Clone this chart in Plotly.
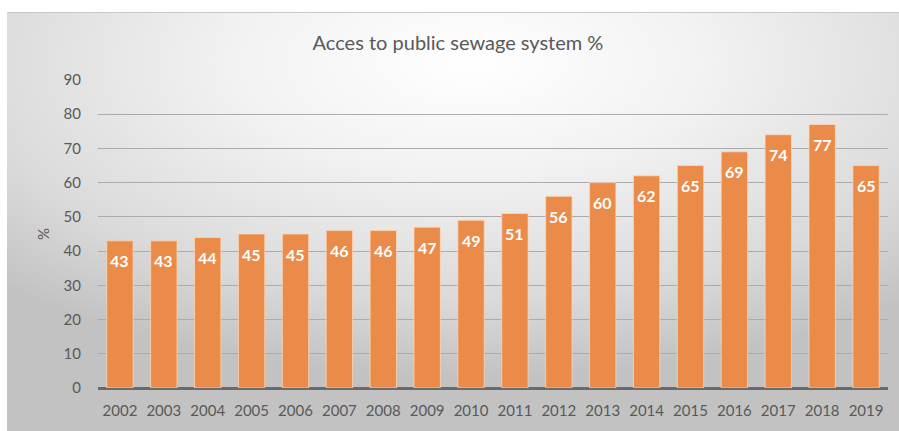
import base64
import plotly.graph_objects as go

years = ["2002", "2003", "2004", "2005", "2006", "2007", "2008", "2009", "2010",
         "2011", "2012", "2013", "2014", "2015", "2016", "2017", "2018", "2019"]
values = [43, 43, 44, 45, 45, 46, 46, 47, 49, 51, 56, 60, 62, 65, 69, 74, 77, 65]
title_text = "Acces to public sewage system %"
y_title = "%"
y_ticks = [0, 10, 20, 30, 40, 50, 60, 70, 80, 90]

W, H = 899, 431
FONT = "Lato"
GREY = "#595959"

svg = """<svg xmlns='http://www.w3.org/2000/svg' width='892' height='419' viewBox='0 0 892 419' preserveAspectRatio='none'>
<defs><radialGradient id='g' cx='0.52' cy='0.12' r='0.75' fx='0.52' fy='0.12'>
<stop offset='0' stop-color='#ffffff'/>
<stop offset='0.35' stop-color='#f2f2f2'/>
<stop offset='0.75' stop-color='#dadada'/>
<stop offset='1' stop-color='#c2c2c2'/>
</radialGradient></defs>
<rect width='892' height='419' fill='url(#g)'/>
<line x1='0' y1='0.5' x2='892' y2='0.5' stroke='#c8c8c8' stroke-width='1'/>
</svg>"""
src = "data:image/svg+xml;base64," + base64.b64encode(svg.encode()).decode()

fig = go.Figure()
fig.add_trace(go.Bar(
    x=years, y=values,
    marker=dict(color="#EA8B4A", line=dict(color="rgba(255,220,190,0.7)", width=1)),
    hoverinfo="x+y",
))

for i, v in enumerate(values):
    fig.add_annotation(x=i, y=v, text=f"<b>{v}</b>", showarrow=False,
                       yanchor="middle", yshift=-20,
                       font=dict(family=FONT, size=16, color="white"))

x0, x1 = 98 / W, 888 / W
y0, y1 = (H - 388) / H, (H - 80) / H

fig.update_layout(
    width=W, height=H,
    margin=dict(l=0, r=0, t=0, b=0, autoexpand=False),
    paper_bgcolor="white",
    plot_bgcolor="rgba(0,0,0,0)",
    showlegend=False,
    bargap=0.4,
    font=dict(family=FONT, color=GREY, size=15),
    title=dict(text=title_text, x=458 / W, xanchor="center", xref="paper",
               y=(H - 43) / H, yanchor="middle",
               font=dict(family=FONT, size=20, color=GREY)),
    images=[dict(source=src, xref="paper", yref="paper", x=7 / W, y=1 - 12 / H,
                 sizex=1 - 7 / W, sizey=1 - 12 / H, xanchor="left", yanchor="top",
                 sizing="stretch", layer="below")],
    xaxis=dict(type="category", domain=[x0, x1], range=[-0.5, len(years) - 0.5],
               showgrid=False, showline=False,
               zeroline=False, automargin=False,
               ticks="", tickfont=dict(size=15, color=GREY), ticklabelstandoff=12),
    yaxis=dict(domain=[y0, y1], range=[0, 90], tickvals=y_ticks, automargin=False,
               showgrid=True, gridcolor="#ababab", gridwidth=1,
               zeroline=True, zerolinecolor="#6a6a6a", zerolinewidth=3,
               showline=False, ticks="", tickfont=dict(size=15, color=GREY),
               ticklabelstandoff=16,
               title=dict(text=y_title, font=dict(size=15, color=GREY), standoff=10)),
)

fig.write_html("out.html", config={"displayModeBar": False},
               post_script="document.body.style.margin='0';")
